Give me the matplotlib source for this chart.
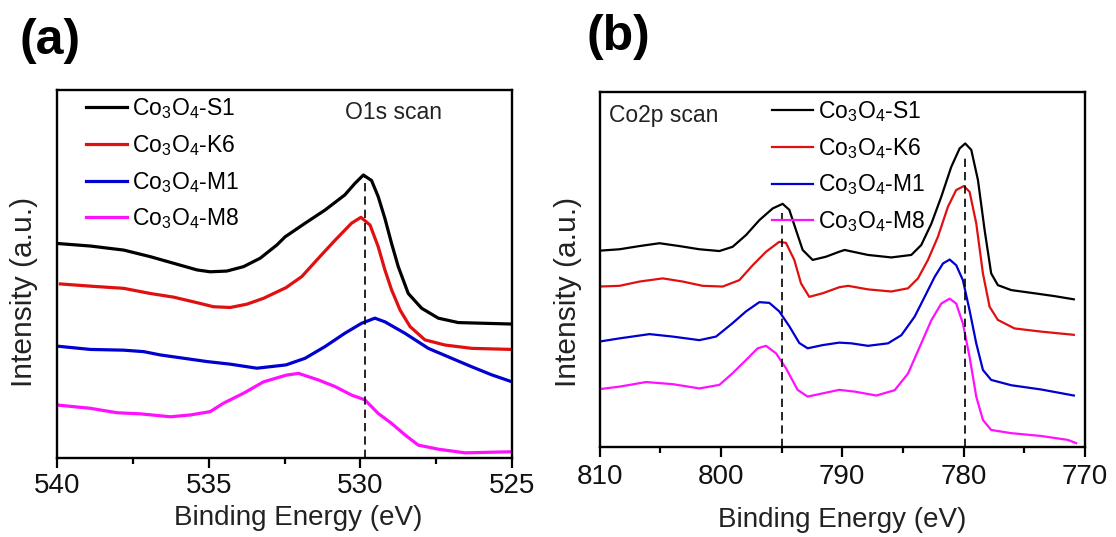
import numpy as np
import matplotlib
matplotlib.use('Agg')
import matplotlib.pyplot as plt
from matplotlib.ticker import MultipleLocator

plt.rcParams['font.family'] = ['Liberation Sans', 'DejaVu Sans']
plt.rcParams['mathtext.fontset'] = 'custom'
plt.rcParams['mathtext.rm'] = 'Liberation Sans'
plt.rcParams['mathtext.it'] = 'Liberation Sans'
plt.rcParams['mathtext.default'] = 'regular'

labels = ['Co$_3$O$_4$-S1', 'Co$_3$O$_4$-K6', 'Co$_3$O$_4$-M1', 'Co$_3$O$_4$-M8']
colors = ['black', '#e01010', '#0000d0', '#ff10ff']

# ---- O1s scan (a) ----
eS1a = [540, 538.90, 537.80, 536.92, 536.15, 535.38, 534.95, 534.40, 533.85, 533.30, 532.75, 532.48,
        531.82, 531.16, 530.51, 530.18, 529.90, 529.63, 529.41, 529.19, 528.97, 528.75, 528.42,
        527.98, 527.43, 526.77, 525.89, 525.0]
iS1a = [58.3, 57.6, 56.5, 54.7, 52.9, 51.1, 50.6, 50.8, 52.0, 54.3, 57.9, 60.1,
        63.8, 67.4, 71.5, 74.6, 76.9, 75.4, 71.0, 65.1, 58.3, 52.0, 44.7,
        40.7, 38.0, 36.8, 36.6, 36.4]
eK6a = [539.89, 538.90, 537.80, 536.92, 536.15, 535.38, 534.84, 534.29, 533.74, 533.19, 532.45, 531.93,
        531.38, 530.83, 530.29, 529.98, 529.68, 529.41, 529.19, 528.97, 528.69, 528.36, 527.87,
        527.21, 526.33, 525.0]
iK6a = [47.3, 46.7, 46.1, 44.7, 43.7, 42.2, 41.1, 40.9, 41.8, 43.4, 46.3, 49.3,
        54.3, 59.2, 63.8, 65.4, 63.3, 57.4, 51.1, 45.7, 40.2, 35.7, 32.1,
        30.7, 29.8, 29.5]
eM1a = [540, 538.90, 537.80, 537.14, 536.59, 535.82, 535.05, 534.29, 533.41, 532.45, 531.82, 531.16,
        530.51, 529.96, 529.52, 529.19, 528.53, 527.76, 526.99, 526.33, 525.67, 525.0]
iM1a = [30.4, 29.5, 29.3, 28.9, 28.0, 27.1, 26.2, 25.5, 24.4, 25.3, 27.1, 30.3,
        33.9, 36.6, 38.0, 37.0, 33.9, 29.8, 27.1, 24.8, 22.6, 20.7]
eM8a = [540, 538.90, 538.02, 537.25, 536.26, 535.60, 534.95, 534.51, 533.85, 533.19, 532.45, 532.04,
        531.38, 530.83, 530.29, 529.85, 529.41, 528.97, 528.53, 528.09, 527.43, 526.55, 525.0]
iM8a = [14.4, 13.5, 12.3, 12.0, 11.2, 11.7, 12.6, 14.9, 17.6, 20.7, 22.5, 23.0,
        21.2, 19.4, 17.1, 15.8, 12.1, 9.4, 6.3, 3.5, 2.4, 1.4, 1.7]
peak_a = 529.86
peak_a_top = 76.9

# ---- Co2p scan (b) ----
eS1b = [810, 808.35, 806.71, 805.06, 803.42, 801.77, 800.12, 799.03, 797.93, 796.83, 795.73, 794.91,
        794.36, 793.81, 793.26, 792.44, 791.34, 790.25, 789.80, 787.88, 785.96, 784.31, 783.49,
        782.66, 781.84, 781.02, 780.33, 779.87, 779.37, 778.82, 778.27, 777.73, 777.18, 776.08,
        774.16, 772.51, 770.92]
iS1b = [55.3, 55.7, 56.6, 57.4, 56.6, 55.7, 55.2, 56.4, 59.7, 63.9, 67.2, 68.5,
        66.8, 61.1, 55.5, 52.7, 53.6, 55.0, 55.5, 54.1, 53.4, 54.1, 56.9,
        62.9, 70.5, 78.9, 84.1, 85.5, 83.7, 75.2, 61.1, 48.9, 45.6, 44.2,
        43.3, 42.5, 41.6]
eK6b = [810, 808.35, 806.71, 804.79, 803.14, 801.50, 799.85, 798.48, 797.38, 796.28, 795.19, 794.64,
        793.95, 793.40, 792.72, 791.62, 790.25, 789.52, 787.88, 785.96, 784.58, 783.76, 782.94,
        782.12, 781.29, 780.61, 779.98, 779.51, 778.96, 778.41, 777.86, 777.18, 775.81, 773.61,
        770.92]
iK6b = [45.2, 45.4, 46.6, 47.5, 46.6, 45.4, 45.2, 47.0, 51.2, 55.0, 57.8, 57.5,
        52.7, 46.1, 42.3, 43.3, 45.0, 45.4, 44.4, 43.8, 44.7, 47.5, 52.7,
        59.2, 67.7, 72.4, 73.5, 71.9, 63.0, 48.9, 39.5, 35.8, 33.4, 32.5,
        31.6]
eM1b = [810, 808.35, 805.88, 803.96, 801.77, 800.40, 799.03, 797.93, 796.83, 796.01, 795.19, 794.36,
        793.54, 792.85, 791.62, 790.25, 789.25, 787.88, 786.23, 785.13, 784.04, 783.21, 782.39,
        781.70, 781.15, 780.61, 780.06, 779.51, 778.96, 778.41, 777.73, 776.08, 773.61, 770.92]
iM1b = [29.7, 30.6, 31.8, 31.1, 30.1, 31.1, 34.9, 38.2, 40.8, 40.6, 38.2, 34.0,
        29.3, 27.8, 28.7, 29.4, 29.2, 28.5, 29.2, 31.5, 36.7, 42.3, 47.9,
        51.7, 52.8, 51.2, 47.0, 38.5, 29.2, 21.7, 18.9, 17.4, 16.2, 14.5]
eM8b = [810, 808.35, 806.16, 803.96, 801.77, 800.12, 799.03, 797.93, 796.97, 796.28, 795.46, 794.64,
        793.68, 792.85, 791.62, 790.25, 788.97, 787.19, 785.68, 784.58, 783.49, 782.66, 781.84,
        781.15, 780.61, 780.06, 779.51, 778.96, 778.41, 777.73, 776.08, 773.61, 771.42, 770.73]
iM8b = [16.3, 17.0, 18.3, 17.7, 16.5, 17.5, 20.8, 24.5, 27.8, 28.5, 26.4, 22.2,
        16.1, 14.2, 15.1, 16.1, 15.6, 14.5, 16.0, 20.7, 29.2, 35.7, 40.4,
        41.8, 40.4, 34.8, 25.4, 14.2, 7.6, 4.8, 3.9, 3.1, 2.0, 1.1]
peaks_b = [795.0, 779.9]
peaks_b_top = [66.0, 82.0]

W, H = 1116, 537
fig = plt.figure(figsize=(W / 100, H / 100), dpi=100)


def px_axes(x0, y0, x1, y1):
    return fig.add_axes([x0 / W, 1 - y1 / H, (x1 - x0) / W, (y1 - y0) / H])


def style(ax, xlim, major, minor, pad, xlab_pos, ylab_pos):
    ax.set_xlim(*xlim)
    ax.set_ylim(0, 100)
    ax.xaxis.set_major_locator(MultipleLocator(major))
    ax.xaxis.set_minor_locator(MultipleLocator(minor))
    ax.set_yticks([])
    for s in ax.spines.values():
        s.set_linewidth(1.7)
    ax.tick_params(axis='x', which='major', direction='out', length=7, width=1.6,
                   labelsize=20, pad=pad, top=False, labelcolor='#111111')
    ax.tick_params(axis='x', which='minor', direction='out', length=4, width=1.6, top=False)
    ax.set_xlabel('Binding Energy (eV)', fontsize=20, color='#222222')
    ax.xaxis.label.set_va('center')
    ax.xaxis.set_label_coords(*xlab_pos)
    ax.set_ylabel('Intensity (a.u.)', fontsize=21.5, color='#222222')
    ax.yaxis.set_label_coords(*ylab_pos)


def add_legend(ax, x, y):
    ax.legend(loc='upper left', bbox_to_anchor=(x, y), frameon=False, fontsize=16.5,
              handlelength=1.8, handletextpad=0.2, labelspacing=0.52, borderpad=0.1,
              borderaxespad=0)


# panel (a)
ax = px_axes(57, 90, 512, 458)
data_a = [(eS1a, iS1a), (eK6a, iK6a), (eM1a, iM1a), (eM8a, iM8a)]
for (e, i), c, lab in zip(data_a, colors, labels):
    ax.plot(e, i, color=c, lw=2.3, label=lab)
ax.plot([peak_a, peak_a], [0, peak_a_top], color='black', lw=1.2, ls=(0, (5, 3)))
style(ax, (540, 525), 5, 2.5, 3.5, (0.53, -0.163), (-0.042, 0.45))
add_legend(ax, 0.059, 0.99)
ax.text(0.74, 0.9375, 'O1s scan', transform=ax.transAxes, fontsize=16.5, color='#222222',
        ha='center', va='center')
fig.text(50 / W, 1 - 41 / H, '(a)', fontsize=36, fontweight='bold', va='center', ha='center')

# panel (b)
ax = px_axes(599.5, 92, 1085, 447)
data_b = [(eS1b, iS1b), (eK6b, iK6b), (eM1b, iM1b), (eM8b, iM8b)]
for (e, i), c, lab in zip(data_b, colors, labels):
    ax.plot(e, i, color=c, lw=1.6, label=lab)
for p, t in zip(peaks_b, peaks_b_top):
    ax.plot([p, p], [0, t], color='black', lw=1.2, ls=(0, (5, 3)))
style(ax, (810, 770), 10, 5, 5.5, (0.5, -0.206), (-0.036, 0.437))
add_legend(ax, 0.35, 0.987)
ax.text(0.0196, 0.935, 'Co2p scan', transform=ax.transAxes, fontsize=16.5, color='#222222',
        ha='left', va='center')
fig.text(618 / W, 1 - 37.5 / H, '(b)', fontsize=36, fontweight='bold', va='center', ha='center')

fig.savefig('out.png', dpi=100)
